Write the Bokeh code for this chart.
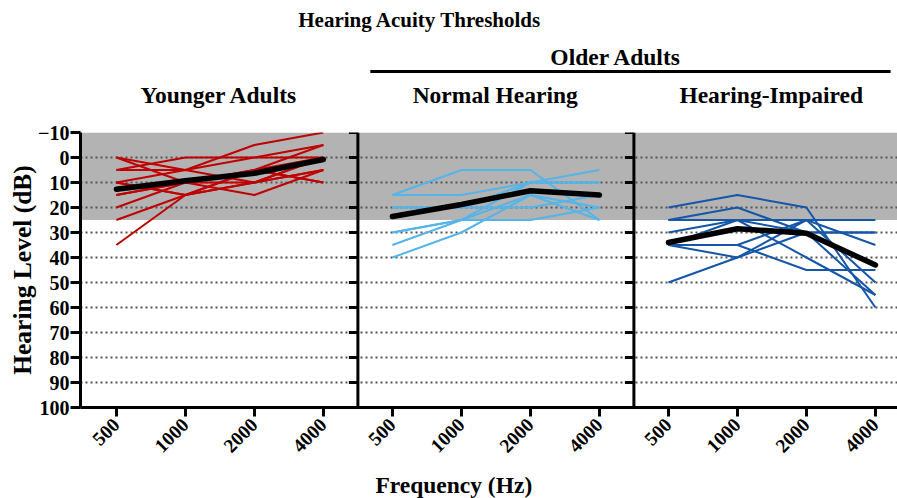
import math
from bokeh.plotting import figure
from bokeh.layouts import column
from bokeh.models import Range1d, FixedTicker, BoxAnnotation, ColumnDataSource
from bokeh.core.properties import value
from bokeh.embed import file_html
from bokeh.resources import INLINE

# ---------------- data ----------------
freqs = ["500", "1000", "2000", "4000"]
panels = ["Younger Adults", "Normal Hearing", "Hearing-Impaired"]

# individual thresholds (dB HL) at 500, 1000, 2000, 4000 Hz
young = [
    [0, 5, 0, -5],
    [0, 10, 10, 0],
    [5, 0, 0, 0],
    [5, 5, -5, -10],
    [10, 5, 10, 5],
    [10, 15, 5, 10],
    [15, 10, 15, 5],
    [15, 10, 5, 10],
    [20, 10, 5, 0],
    [25, 15, 10, 5],
    [35, 15, 5, -5],
    [10, 15, 10, 0],
]
normal = [
    [15, 5, 5, 25],
    [15, 15, 10, 5],
    [20, 20, 10, 10],
    [20, 20, 20, 15],
    [30, 25, 25, 20],
    [30, 25, 10, 10],
    [35, 25, 15, 25],
    [40, 30, 15, 20],
]
impaired = [
    [20, 15, 20, 60],
    [25, 20, 30, 55],
    [25, 25, 25, 25],
    [30, 25, 30, 30],
    [35, 35, 25, 35],
    [35, 35, 45, 45],
    [50, 40, 30, 30],
    [35, 25, 40, 55],
    [35, 40, 25, 50],
]
young_mean = [12.7, 9.3, 6.3, 0.8]
normal_mean = [23.6, 18.8, 13.3, 15.0]
impaired_mean = [34.0, 28.5, 30.3, 43.0]

normal_band = (-10, 25)   # shaded "normal hearing" range
y_ticks = list(range(-10, 101, 10))

colors = ["#C00000", "#55B4E8", "#1556A8"]

# ---------------- figures ----------------
FONT = "Liberation Serif"
X0, X1 = -0.52, 11.32
xr = Range1d(X0, X1)

# heading strip
top = figure(width=897, height=120, output_backend="svg", toolbar_location=None,
             x_range=xr, y_range=Range1d(-14.8, -62.8), min_border=0,
             min_border_left=80, min_border_right=0, min_border_top=0, min_border_bottom=0,
             x_axis_type=None, y_axis_type=None)
top.outline_line_color = None
top.grid.visible = False
top.text(x=[4.40], y=[-55.2], text=["Hearing Acuity Thresholds"], text_font=value(FONT),
         text_font_style="bold", text_font_size="21px", text_align="center",
         text_baseline="middle", text_color="black")
top.text(x=[7.24], y=[-40.2], text=["Older Adults"], text_font=value(FONT),
         text_font_style="bold", text_font_size="23.5px", text_align="center",
         text_baseline="middle", text_color="black")
top.segment(x0=[3.68], y0=[-34.4], x1=[11.22], y1=[-34.4], line_color="black", line_width=3)
top.text(x=[1.49, 5.49, 9.49], y=[-25.2, -25.2, -25.2], text=panels, text_font=value(FONT),
         text_font_style="bold", text_font_size="23.5px", text_align="center",
         text_baseline="middle", text_color="black")

# main chart
p = figure(width=897, height=350, output_backend="svg", toolbar_location=None,
           x_range=xr, y_range=Range1d(100, -10),
           min_border_left=80, min_border_right=0, min_border_top=12,
           min_border_bottom=63)
p.outline_line_color = None
p.background_fill_color = "white"

# x axis
p.xaxis.ticker = FixedTicker(ticks=list(range(12)))
p.xaxis.major_label_overrides = {i: freqs[i % 4] for i in range(12)}
p.xaxis.major_label_orientation = math.pi / 4
p.xaxis.major_label_text_font = FONT
p.xaxis.major_label_text_font_style = "bold"
p.xaxis.major_label_text_font_size = "19.5px"
p.xaxis.major_label_text_color = "black"
p.xaxis.axis_line_width = 3
p.xaxis.major_tick_line_width = 3
p.xaxis.major_tick_out = 9
p.xaxis.major_tick_in = 0
p.xaxis.minor_tick_line_color = None
p.xaxis.major_label_standoff = 5

# y axis
p.yaxis.ticker = FixedTicker(ticks=y_ticks)
p.yaxis.major_label_text_font = FONT
p.yaxis.major_label_text_font_style = "bold"
p.yaxis.major_label_text_font_size = "20px"
p.yaxis.major_label_text_color = "black"
p.yaxis.axis_line_width = 3
p.yaxis.major_tick_line_width = 3
p.yaxis.major_tick_out = 10
p.yaxis.major_tick_in = 0
p.yaxis.minor_tick_line_color = None
p.yaxis.major_label_standoff = 1
p.yaxis.axis_label = "Hearing Level (dB)"
p.yaxis.axis_label_text_font = FONT
p.yaxis.axis_label_text_font_style = "bold"
p.yaxis.axis_label_text_font_size = "25.5px"
p.yaxis.axis_label_text_color = "black"
p.yaxis.axis_label_standoff = -2

# grid
p.xgrid.visible = False
p.ygrid.ticker = FixedTicker(ticks=y_ticks[:-1])
p.ygrid.grid_line_color = "#555555"
p.ygrid.grid_line_dash = "2 3"
p.ygrid.grid_line_width = 2

# shaded band
p.add_layout(BoxAnnotation(left=X0, right=X1, top=normal_band[0], bottom=normal_band[1],
                           fill_color="#B3B3B3", fill_alpha=1.0, line_color=None, level="image"))

# individual lines and means
groups = [young, normal, impaired]
means = [young_mean, normal_mean, impaired_mean]
for gi, (grp, mn, col) in enumerate(zip(groups, means, colors)):
    xs = [[4 * gi + j for j in range(4)] for _ in grp]
    src = ColumnDataSource(dict(xs=xs, ys=grp))
    p.multi_line("xs", "ys", source=src, line_color=col, line_width=2)
    p.line([4 * gi + j for j in range(4)], mn, line_color="black", line_width=5.5,
           line_join="round", line_cap="round")

# panel dividers with ticks
div_x = [3.5, 7.5]
p.segment(x0=div_x, y0=[-10, -10], x1=div_x, y1=[100, 100], line_color="black", line_width=3)
tick_len = 9 / 69.0
tx0, ty, tx1 = [], [], []
for dx in div_x:
    for t in y_ticks:
        tx0.append(dx - tick_len)
        tx1.append(dx)
        ty.append(t)
p.segment(x0=tx0, y0=ty, x1=tx1, y1=ty, line_color="black", line_width=3)

# x-axis title strip
p2 = figure(width=897, height=28, output_backend="svg", toolbar_location=None,
            x_range=xr, y_range=Range1d(0, 1), min_border=0,
            min_border_left=80, min_border_right=0, min_border_top=0, min_border_bottom=0,
            x_axis_type=None, y_axis_type=None)
p2.outline_line_color = None
p2.grid.visible = False
p2.text(x=[4.89], y=[0.5], text=["Frequency (Hz)"], text_font=value(FONT),
        text_font_style="bold", text_font_size="23.5px", text_align="center",
        text_baseline="middle", text_color="black")

layout = column(top, p, p2, spacing=0)
open("out.html", "w").write(file_html(layout, INLINE))
